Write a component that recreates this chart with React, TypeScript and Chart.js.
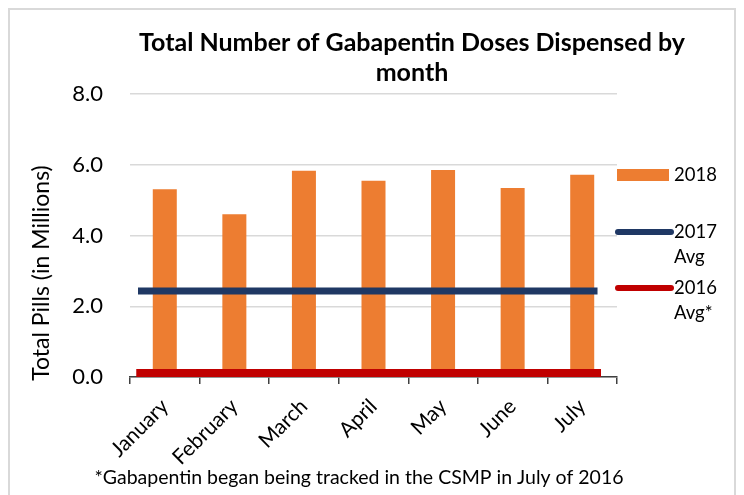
import { useEffect, useRef } from "react";
import { Chart, registerables } from "chart.js";

Chart.register(...registerables);

const FONT = "Lato, 'Open Sans', sans-serif";

const titleLines = ["Total Number of Gabapentin Doses Dispensed by", "month"];
const yAxisTitle = "Total Pills (in Millions)";
const footnote = "*Gabapentin began being tracked in the CSMP in July of 2016";

const months = ["January", "February", "March", "April", "May", "June", "July"];
const doses2018 = [5.31, 4.6, 5.83, 5.55, 5.85, 5.34, 5.72];

const avg2017 = 2.43;
const avg2017Span = [0.115, 6.72];
const avg2016 = 0.11;
const avg2016Span = [0.09, 6.77];

const yMin = 0;
const yMax = 8;
const yStep = 2;

const seriesLabels = ["2018", "2017 Avg", "2016 Avg*"];
const colors = { bar: "#ED7D31", avg2017: "#1F3864", avg2016: "#C00000" };

export default function App() {
  const ref = useRef<HTMLCanvasElement | null>(null);

  useEffect(() => {
    if (!ref.current) return;

    const decor = {
      id: "decor",
      afterDraw(chart: any) {
        const ctx = chart.ctx as CanvasRenderingContext2D;
        const area = chart.chartArea;
        ctx.save();
        ctx.fillStyle = "#000";
        ctx.textAlign = "center";
        ctx.textBaseline = "middle";

        // Title
        ctx.font = `bold 25px ${FONT}`;
        titleLines.forEach((t, i) => ctx.fillText(t, 402, 33 + i * 30));

        // Y axis title
        ctx.save();
        ctx.translate(32, 263);
        ctx.rotate(-Math.PI / 2);
        ctx.font = `23px ${FONT}`;
        ctx.fillText(yAxisTitle, 0, 0);
        ctx.restore();

        // Footnote
        ctx.font = `19.5px ${FONT}`;
        ctx.fillText(footnote, 349, 468);

        // Legend
        const lx = area.right;
        ctx.textAlign = "left";
        ctx.font = `18.5px ${FONT}`;
        ctx.fillStyle = colors.bar;
        ctx.fillRect(lx, 159, 52, 12);
        ctx.fillStyle = "#000";
        ctx.fillText(seriesLabels[0], lx + 57, 165);
        ctx.lineCap = "round";
        ctx.lineWidth = 6;
        ctx.strokeStyle = colors.avg2017;
        ctx.beginPath();
        ctx.moveTo(lx + 1, 222);
        ctx.lineTo(lx + 54, 222);
        ctx.stroke();
        const l2 = seriesLabels[1].split(" ");
        ctx.fillText(l2[0], lx + 57, 222);
        ctx.fillText(l2[1], lx + 57, 247);
        ctx.strokeStyle = colors.avg2016;
        ctx.beginPath();
        ctx.moveTo(lx + 1, 278);
        ctx.lineTo(lx + 54, 278);
        ctx.stroke();
        const l3 = seriesLabels[2].split(" ");
        ctx.fillText(l3[0], lx + 57, 278);
        ctx.fillText(l3[1], lx + 57, 303);

        ctx.restore();
      },
    };

    const chart = new Chart(ref.current, {
      type: "bar",
      data: {
        labels: months,
        datasets: [
          {
            type: "bar",
            label: seriesLabels[0],
            data: doses2018,
            backgroundColor: colors.bar,
            barPercentage: 0.345,
            categoryPercentage: 1,
            grouped: false,
            order: 3,
            xAxisID: "x",
            yAxisID: "y",
          } as any,
          {
            type: "line",
            label: seriesLabels[1],
            data: [
              { x: avg2017Span[0], y: avg2017 },
              { x: avg2017Span[1], y: avg2017 },
            ],
            borderColor: colors.avg2017,
            borderWidth: 7,
            borderCapStyle: "butt",
            pointRadius: 0,
            fill: false,
            tension: 0,
            order: 1,
            xAxisID: "x2",
            yAxisID: "y",
          } as any,
          {
            type: "line",
            label: seriesLabels[2],
            data: [
              { x: avg2016Span[0], y: avg2016 },
              { x: avg2016Span[1], y: avg2016 },
            ],
            borderColor: colors.avg2016,
            borderWidth: 8,
            borderCapStyle: "butt",
            pointRadius: 0,
            fill: false,
            tension: 0,
            order: 2,
            xAxisID: "x2",
            yAxisID: "y",
          } as any,
        ],
      },
      options: {
        animation: false,
        responsive: true,
        maintainAspectRatio: false,
        layout: { padding: { left: 0, right: 117, top: 84, bottom: 43 } },
        plugins: {
          legend: { display: false },
          title: { display: false },
          tooltip: { enabled: false },
        },
        scales: {
          x: {
            type: "category",
            offset: true,
            afterFit: (s: any) => {
              s.height = 90;
            },
            grid: {
              display: true,
              drawOnChartArea: false,
              drawTicks: true,
              tickLength: 7,
              offset: true,
              color: "#404040",
              lineWidth: 1.5,
            },
            border: { display: true, color: "#404040", width: 1.5 },
            ticks: {
              minRotation: 45,
              maxRotation: 45,
              color: "#000",
              padding: 10,
              font: { family: FONT, size: 21 },
              autoSkip: false,
            },
          },
          x2: {
            type: "linear",
            display: false,
            min: 0,
            max: 7,
            offset: false,
          },
          y: {
            min: yMin,
            max: yMax,
            afterFit: (s: any) => {
              s.width = 120;
            },
            ticks: {
              stepSize: yStep,
              color: "#000",
              padding: 27,
              font: { family: FONT, size: 22 },
              callback: (v: any) => Number(v).toFixed(1),
            },
            grid: { color: "#d9d9d9", lineWidth: 1.5, drawTicks: false },
            border: { display: false },
          },
        },
      } as any,
      plugins: [decor],
    });

    return () => chart.destroy();
  }, []);

  return (
    <div style={{ border: "2px solid #d9d9d9", height: 500, position: "relative" }}>
      <canvas ref={ref} />
    </div>
  );
}
